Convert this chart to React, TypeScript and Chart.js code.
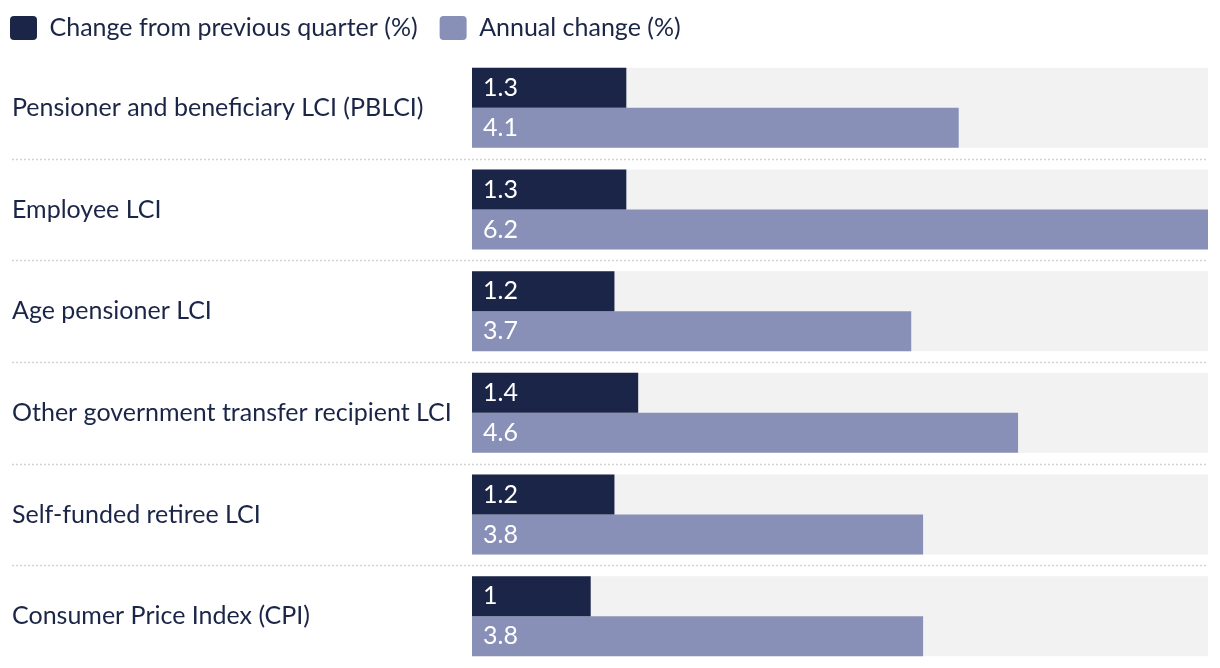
import React, { useEffect, useRef } from "react";
import { Chart, registerables } from "chart.js";

Chart.register(...registerables);

const categories = [
  "Pensioner and beneficiary LCI (PBLCI)",
  "Employee LCI",
  "Age pensioner LCI",
  "Other government transfer recipient LCI",
  "Self-funded retiree LCI",
  "Consumer Price Index (CPI)",
];
const quarterlyChange = [1.3, 1.3, 1.2, 1.4, 1.2, 1];
const annualChange = [4.1, 6.2, 3.7, 4.6, 3.8, 3.8];
const seriesNames = ["Change from previous quarter (%)", "Annual change (%)"];

const DARK = "#1b2547";
const LIGHT = "#8890b8";
const TRACK = "#f2f2f2";
const TEXT = "#1b2547";
const FONT = "Lato, 'Noto Sans', sans-serif";
const FONT_SIZE = 25;

const trackAndLabels = {
  id: "trackAndLabels",
  afterLayout(chart: any) {
    const y = chart.scales.y;
    y.left = 12;
    if (chart.legend) {
      chart.legend.left = -12;
      chart.legend.top = -6.5;
    }
  },
  beforeDatasetsDraw(chart: any) {
    const { ctx, chartArea, scales } = chart;
    const x = scales.x;
    const y = scales.y;
    const n = chart.data.labels.length;
    const metaA = chart.getDatasetMeta(0);
    const metaB = chart.getDatasetMeta(1);
    ctx.save();
    for (let i = 0; i < n; i++) {
      const a = metaA.data[i];
      const b = metaB.data[i];
      const top = a.y - a.height / 2;
      const bottom = b.y + b.height / 2;
      ctx.fillStyle = TRACK;
      ctx.fillRect(x.getPixelForValue(0), top, x.getPixelForValue(x.max) - x.getPixelForValue(0), bottom - top);
    }
    ctx.strokeStyle = "#d2d2d2";
    ctx.lineWidth = 1.5;
    ctx.setLineDash([2, 2]);
    for (let i = 1; i < n; i++) {
      const yy = Math.round((y.getPixelForValue(i - 1) + y.getPixelForValue(i)) / 2) + 0.5;
      ctx.beginPath();
      ctx.moveTo(12, yy);
      ctx.lineTo(chartArea.right, yy);
      ctx.stroke();
    }
    ctx.restore();
  },
  afterDatasetsDraw(chart: any) {
    const { ctx } = chart;
    ctx.save();
    ctx.fillStyle = "#ffffff";
    ctx.font = `${FONT_SIZE}px ${FONT}`;
    ctx.textAlign = "left";
    ctx.textBaseline = "middle";
    chart.data.datasets.forEach((ds: any, di: number) => {
      const meta = chart.getDatasetMeta(di);
      meta.data.forEach((el: any, i: number) => {
        ctx.fillText(String(ds.data[i]), el.base + 11, el.y);
      });
    });
    ctx.restore();
  },
};

export default function App() {
  const ref = useRef<HTMLCanvasElement | null>(null);
  useEffect(() => {
    document.body.style.margin = "0";
    const chart = new Chart(ref.current as HTMLCanvasElement, {
      type: "bar",
      data: {
        labels: categories,
        datasets: [
          { label: seriesNames[0], data: quarterlyChange, backgroundColor: DARK, categoryPercentage: 0.787, barPercentage: 1 },
          { label: seriesNames[1], data: annualChange, backgroundColor: LIGHT, categoryPercentage: 0.787, barPercentage: 1 },
        ],
      },
      options: {
        indexAxis: "y",
        animation: false,
        responsive: true,
        maintainAspectRatio: false,
        layout: { padding: { left: 0, right: 12, top: 0, bottom: 1 } },
        plugins: {
          legend: {
            position: "top",
            align: "start",
            labels: {
              boxWidth: 27,
              boxHeight: 24,
              useBorderRadius: true,
              borderRadius: 4,
              padding: 22,
              color: TEXT,
              font: { family: FONT, size: FONT_SIZE },
            },
          },
          tooltip: { enabled: false },
        },
        scales: {
          x: { display: false, min: 0, max: 6.2 },
          y: {
            grid: { display: false },
            border: { display: false },
            afterFit(scale: any) {
              scale.width = 472;
              scale.paddingTop = 0;
              scale.paddingBottom = 0;
            },
            ticks: {
              crossAlign: "far",
              color: TEXT,
              font: { family: FONT, size: FONT_SIZE },
            },
          },
        },
      },
      plugins: [trackAndLabels],
    });
    return () => chart.destroy();
  }, []);
  return (
    <div style={{ width: 1220, height: 668, position: "relative" }}>
      <canvas ref={ref} />
    </div>
  );
}
